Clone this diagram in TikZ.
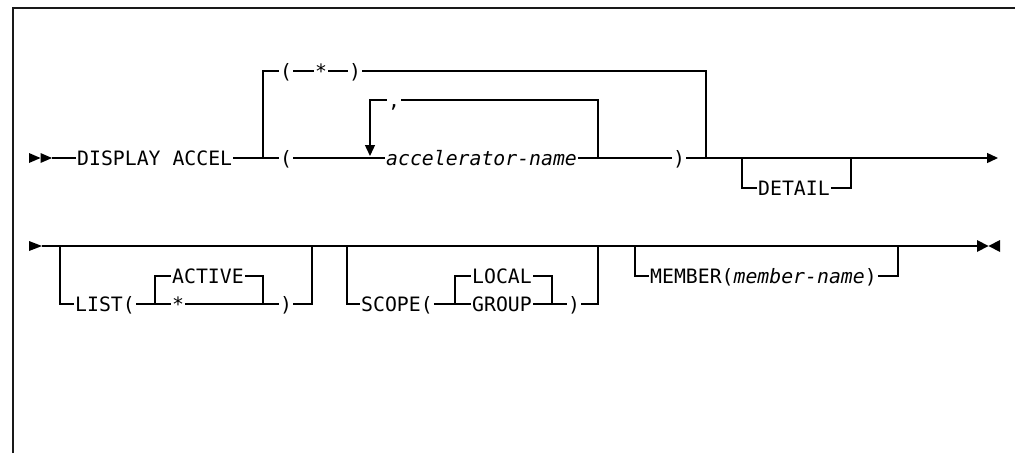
\documentclass[tikz,border=0pt]{standalone}
\usepackage{fontspec}
\newfontfamily\dfont{DejaVu Sans Mono}
\usetikzlibrary{arrows.meta}
\tikzset{
  rr/.style={line width=1.4pt},
  t/.style={font=\dfont\fontsize{19.8pt}{24pt}\selectfont, inner xsep=1pt, inner ysep=0pt,
            text height=14.4pt, text depth=0pt, anchor=west},
  tip/.style={-{Triangle[length=11pt,width=10pt]}},
  frame/.style={line width=2pt, black!90}
}
\begin{document}
\begin{tikzpicture}[x=1pt,y=-1pt]
\useasboundingbox (0,0) rectangle (1015,453);
\draw[frame] (12.5,453) -- (12.5,7.5) -- (1015,7.5);

% ---------- row 1 ----------
\fill (29,153) -- (40.5,158) -- (29,163) -- cycle;
\fill (40.5,153) -- (52,158) -- (40.5,163) -- cycle;
\coordinate (s1) at (52,158);
\node[t] (disp) at (76,158) {DISPLAY ACCEL};
\coordinate (j1) at (263,158);
\coordinate (j2) at (706,158);
\node[t] (lp1) at (279,71) {(};
\node[t] (star1) at (314,71) {*};
\node[t] (rp1) at (348,71) {)};
\node[t] (lp2) at (279,158) {(};
\node[t] (acc) at (385,158) {\itshape accelerator-name};
\node[t] (rp2) at (672,158) {)};
\node[t, anchor=center] (comma) at (394,100) {,};
\coordinate (lpL) at (370,156);
\coordinate (lpR) at (598,158);
\coordinate (dL) at (742,158);
\coordinate (dR) at (851,158);
\node[t] (det) at (757,188) {DETAIL};
\coordinate (e1) at (998,158);

\begin{scope}[rr]
\draw (s1) -- (disp.west);
\draw (disp.east) -- (lp2.west);
\draw (j1) |- (lp1.west);
\draw (lp1.east) -- (star1.west);
\draw (star1.east) -- (rp1.west);
\draw (rp1.east) -| (j2);
\draw (lp2.east) -- (acc.west);
\draw (acc.east) -- (rp2.west);
\draw (lpR) |- (comma.east);
\draw[tip] (comma.west) -| (lpL);
\draw[tip] (rp2.east) -- (e1);
\draw (dL) |- (det.west);
\draw (det.east) -| (dR);
\end{scope}

% ---------- row 2 ----------
\fill (29,241) -- (42,246) -- (29,251) -- cycle;
\coordinate (s2) at (42,246);
\coordinate (e2) at (977,246);
\fill (977,240) -- (988.5,246) -- (977,252) -- cycle;
\fill (1000,240) -- (988.5,246) -- (1000,252) -- cycle;

\coordinate (L1) at (60,246);
\node[t] (list) at (74,304) {LIST(};
\coordinate (la) at (155,304);
\node[t] (act) at (171,276) {ACTIVE};
\node[t] (ast) at (171,304) {*};
\coordinate (lb) at (263,304);
\node[t] (rpl) at (279,304) {)};
\coordinate (lR) at (312,246);

\coordinate (S1) at (347,246);
\node[t] (scope) at (360,304) {SCOPE(};
\coordinate (sa) at (455,304);
\node[t] (loc) at (471,276) {LOCAL};
\node[t] (grp) at (471,304) {GROUP};
\coordinate (sb) at (552,304);
\node[t] (rps) at (567,304) {)};
\coordinate (sR) at (598,246);

\coordinate (M1) at (635,246);
\node[t] (mem) at (649,276) {MEMBER(\textit{member-name})};
\coordinate (mR) at (898,246);

\begin{scope}[rr]
\draw (s2) -- (e2);
\draw (L1) |- (list.west);
\draw (list.east) -- (ast.west);
\draw (la) |- (act.west);
\draw (act.east) -| (lb);
\draw (ast.east) -- (rpl.west);
\draw (rpl.east) -| (lR);
\draw (S1) |- (scope.west);
\draw (scope.east) -- (grp.west);
\draw (sa) |- (loc.west);
\draw (loc.east) -| (sb);
\draw (grp.east) -- (rps.west);
\draw (rps.east) -| (sR);
\draw (M1) |- (mem.west);
\draw (mem.east) -| (mR);
\end{scope}
\end{tikzpicture}
\end{document}
